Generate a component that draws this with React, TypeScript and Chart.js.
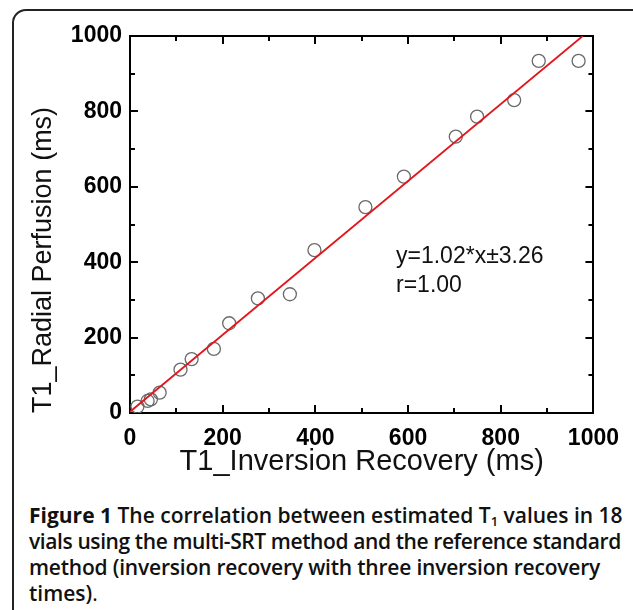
import React, { useEffect, useRef } from "react";
import { Chart, registerables } from "chart.js";

Chart.register(...registerables);

// T1 by inversion recovery (x) vs T1 by radial perfusion / multi-SRT (y), ms
const irValues = [16, 38, 45, 64, 109, 133, 181, 214, 276, 345, 398, 508, 591, 703, 749, 829, 882, 968];
const srtValues = [17, 32, 36, 54, 115, 143, 170, 238, 304, 315, 432, 546, 627, 733, 786, 830, 934, 934];

// fitted line end points (y = 1.02*x + 3.26)
const fitLineX = [0, 977];
const fitLineY = [3.26, 1000];

const axisTickLabels = [0, 200, 400, 600, 800, 1000];
const innerTickValues = [100, 200, 300, 400, 500, 600, 700, 800, 900];

const equationText = "y=1.02*x\u00B13.26";
const rText = "r=1.00";
const xTitle = "T1_Inversion Recovery (ms)";
const yTitle = "T1_Radial Perfusion (ms)";

const W = 633;
const H = 490;
const PLOT_LEFT = 130;
const PLOT_RIGHT = 597;
const PLOT_TOP = 36;
const PLOT_BOTTOM = 413;

const innerTicks = {
  id: "innerTicks",
  afterDraw(chart: any) {
    const { ctx, chartArea: a, scales } = chart;
    const x = scales.x;
    const y = scales.y;
    ctx.save();
    ctx.strokeStyle = "#000";
    ctx.lineWidth = 2;
    ctx.beginPath();
    for (const v of innerTickValues) {
      const len = v % 200 === 0 ? 8 : 5;
      const px = Math.round(x.getPixelForValue(v));
      const py = Math.round(y.getPixelForValue(v));
      ctx.moveTo(px, a.bottom);
      ctx.lineTo(px, a.bottom - len);
      ctx.moveTo(px, a.top);
      ctx.lineTo(px, a.top + len);
      ctx.moveTo(a.left, py);
      ctx.lineTo(a.left + len, py);
      ctx.moveTo(a.right, py);
      ctx.lineTo(a.right - len, py);
    }
    ctx.stroke();
    ctx.restore();
  },
};

const annotation = {
  id: "fitAnnotation",
  afterDraw(chart: any) {
    const { ctx, scales } = chart;
    const px = scales.x.getPixelForValue(574);
    ctx.save();
    ctx.fillStyle = "#111";
    ctx.font = "23px 'Liberation Sans', Arial, sans-serif";
    ctx.textAlign = "left";
    ctx.textBaseline = "alphabetic";
    ctx.fillText(equationText, px, scales.y.getPixelForValue(398));
    ctx.fillText(rText, px, scales.y.getPixelForValue(321));
    ctx.restore();
  },
};

export default function App() {
  const ref = useRef<HTMLCanvasElement | null>(null);

  useEffect(() => {
    if (!ref.current) return;
    const points = irValues.map((v, i) => ({ x: v, y: srtValues[i] }));
    const line = fitLineX.map((v, i) => ({ x: v, y: fitLineY[i] }));
    const fam = "'Liberation Sans', Arial, sans-serif";
    const tickFont = { family: fam, size: 23, weight: "bold" as const, lineHeight: 1 };

    const chart = new Chart(ref.current, {
      type: "scatter",
      data: {
        datasets: [
          {
            type: "line",
            data: line,
            borderColor: "#e3161c",
            borderWidth: 1.8,
            pointRadius: 0,
            fill: false,
          } as any,
          {
            data: points,
            pointStyle: "circle",
            pointRadius: 6.5,
            pointBorderColor: "#6a6a6a",
            pointBackgroundColor: "rgba(255,255,255,0)",
            pointBorderWidth: 1.3,
          },
        ],
      },
      options: {
        animation: false,
        responsive: false,
        devicePixelRatio: 1,
        layout: { padding: 0 },
        plugins: {
          legend: { display: false },
          tooltip: { enabled: false },
        },
        scales: {
          x: {
            type: "linear",
            position: "bottom",
            min: 0,
            max: 1000,
            afterFit: (s: any) => { s.height = H - PLOT_BOTTOM; },
            afterBuildTicks: (s: any) => { s.ticks = axisTickLabels.map((v) => ({ value: v })); },
            grid: { display: false, drawTicks: false },
            border: { display: true, color: "#000", width: 2 },
            ticks: { color: "#000", font: tickFont, padding: 14, maxRotation: 0, autoSkip: false, callback: (v: any) => String(v) },
            title: { display: true, text: xTitle, color: "#111", font: { family: fam, size: 29, lineHeight: 1 }, padding: { top: 0, bottom: 14 } },
          },
          y: {
            type: "linear",
            position: "left",
            min: 0,
            max: 1000,
            afterFit: (s: any) => { s.width = PLOT_LEFT; },
            afterBuildTicks: (s: any) => { s.ticks = axisTickLabels.map((v) => ({ value: v })); },
            grid: { display: false, drawTicks: false },
            border: { display: true, color: "#000", width: 2 },
            ticks: { color: "#000", font: tickFont, padding: 8, autoSkip: false, callback: (v: any) => String(v) },
            title: { display: true, text: yTitle, color: "#111", font: { family: fam, size: 27, lineHeight: 1 }, align: "start", padding: { top: 30, bottom: 0 } },
          },
          x2: {
            type: "linear",
            position: "top",
            min: 0,
            max: 1000,
            afterFit: (s: any) => { s.height = PLOT_TOP; },
            grid: { display: false, drawTicks: false },
            border: { display: true, color: "#000", width: 2 },
            ticks: { display: false },
          },
          y2: {
            type: "linear",
            position: "right",
            min: 0,
            max: 1000,
            afterFit: (s: any) => { s.width = W - PLOT_RIGHT; },
            grid: { display: false, drawTicks: false },
            border: { display: true, color: "#000", width: 2 },
            ticks: { display: false },
          },
        },
      },
      plugins: [innerTicks, annotation],
    });
    return () => chart.destroy();
  }, []);

  const lineStyle = (ls: number): React.CSSProperties => ({ display: "block", letterSpacing: ls, whiteSpace: "nowrap" });

  return (
    <div
      style={{
        position: "fixed",
        left: 0,
        top: 0,
        width: W,
        height: 610,
        overflow: "hidden",
        background: "#fff",
      }}
    >
      <div
        style={{
          position: "absolute",
          left: 12,
          top: 9,
          width: 720,
          height: 720,
          border: "2px solid #222",
          borderRadius: 14,
          boxSizing: "border-box",
        }}
      />
      <canvas ref={ref} width={W} height={H} style={{ position: "absolute", left: 0, top: 0, width: W, height: H }} />
      <div
        style={{
          position: "absolute",
          left: 29,
          top: 502,
          width: 600,
          fontFamily: "'Open Sans', 'Noto Sans', sans-serif",
          fontSize: 21,
          lineHeight: "26px",
          fontWeight: 600,
          color: "#111",
        }}
      >
        <span style={lineStyle(0)}>
          <span style={{ fontWeight: 700 }}>Figure 1</span> The correlation between estimated T
          <sub style={{ fontSize: 13, verticalAlign: "-3px", lineHeight: 0 }}>1</sub> values in 18
        </span>
        <span style={lineStyle(-0.4)}>vials using the multi-SRT method and the reference standard</span>
        <span style={lineStyle(-0.2)}>method (inversion recovery with three inversion recovery</span>
        <span style={lineStyle(0)}>
          times)<span style={{ fontWeight: 400 }}>.</span>
        </span>
      </div>
    </div>
  );
}
